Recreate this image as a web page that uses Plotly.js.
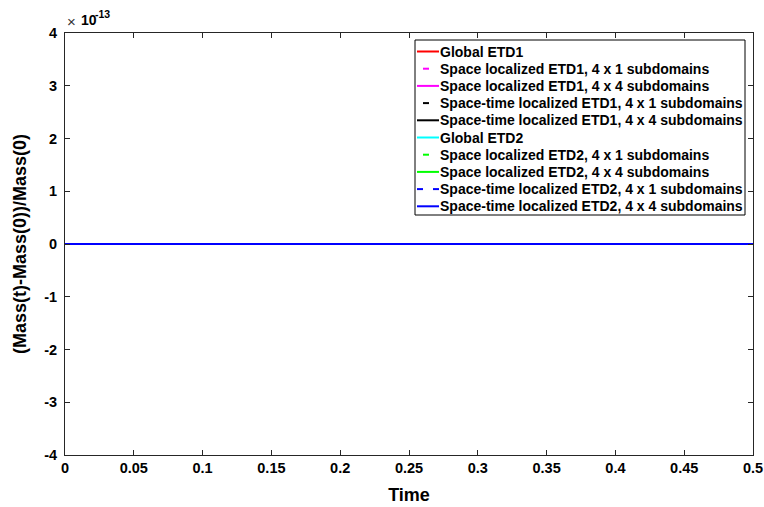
<!DOCTYPE html>
<html>
<head>
<meta charset="utf-8">
<script src="https://cdn.plot.ly/plotly-3.0.1.min.js"></script>
<style>html,body{margin:0;padding:0;background:#fff;}#chart{width:764px;height:507px;}</style>
</head>
<body>
<div id="chart"></div>
<script>
// Time samples
var time = [0, 0.05, 0.1, 0.15, 0.2, 0.25, 0.3, 0.35, 0.4, 0.45, 0.5];
// Relative mass change, in units of 1e-13 (all effectively zero)
var globalETD1       = [0, 0, 0, 0, 0, 0, 0, 0, 0, 0, 0];
var spaceETD1_4x1    = [0, 0, 0, 0, 0, 0, 0, 0, 0, 0, 0];
var spaceETD1_4x4    = [0, 0, 0, 0, 0, 0, 0, 0, 0, 0, 0];
var stETD1_4x1       = [0, 0, 0, 0, 0, 0, 0, 0, 0, 0, 0];
var stETD1_4x4       = [0, 0, 0, 0, 0, 0, 0, 0, 0, 0, 0];
var globalETD2       = [0, 0, 0, 0, 0, 0, 0, 0, 0, 0, 0];
var spaceETD2_4x1    = [0, 0, 0, 0, 0, 0, 0, 0, 0, 0, 0];
var spaceETD2_4x4    = [0, 0, 0, 0, 0, 0, 0, 0, 0, 0, 0];
var stETD2_4x1       = [0, 0, 0, 0, 0, 0, 0, 0, 0, 0, 0];
var stETD2_4x4       = [0, 0, 0, 0, 0, 0, 0, 0, 0, 0, 0];

var seriesNames = [
  'Global ETD1',
  'Space localized ETD1, 4 x 1 subdomains',
  'Space localized ETD1, 4 x 4 subdomains',
  'Space-time localized ETD1, 4 x 1 subdomains',
  'Space-time localized ETD1, 4 x 4 subdomains',
  'Global ETD2',
  'Space localized ETD2, 4 x 1 subdomains',
  'Space localized ETD2, 4 x 4 subdomains',
  'Space-time localized ETD2, 4 x 1 subdomains',
  'Space-time localized ETD2, 4 x 4 subdomains'
];
var xTickVals = [0, 0.05, 0.1, 0.15, 0.2, 0.25, 0.3, 0.35, 0.4, 0.45, 0.5];
var xTickText = ['0', '0.05', '0.1', '0.15', '0.2', '0.25', '0.3', '0.35', '0.4', '0.45', '0.5'];
var yTickVals = [-4, -3, -2, -1, 0, 1, 2, 3, 4];
var yTickText = ['-4', '-3', '-2', '-1', '0', '1', '2', '3', '4'];
var yExponent = '-13';

var seriesData = [globalETD1, spaceETD1_4x1, spaceETD1_4x4, stETD1_4x1, stETD1_4x4,
                  globalETD2, spaceETD2_4x1, spaceETD2_4x4, stETD2_4x1, stETD2_4x4];
var colors = ['#ff0000', '#ff00ff', '#ff00ff', '#000000', '#000000',
              '#00ffff', '#00ff00', '#00ff00', '#0000ff', '#0000ff'];
var dashes = ['solid', 'dash', 'solid', 'dash', 'solid',
              'solid', 'dash', 'solid', 'dash', 'solid'];

var traces = seriesData.map(function (ys, i) {
  return {
    x: time, y: ys, type: 'scatter', mode: 'lines', name: seriesNames[i],
    showlegend: false,
    line: {color: colors[i], width: 2, dash: dashes[i]}
  };
});

// page geometry (pixels) -> paper coordinates
var M = {l: 65, r: 11, t: 33, b: 52};
var W = 764, H = 507;
var PW = W - M.l - M.r, PH = H - M.t - M.b;
function px(x) { return (x - M.l) / PW; }
function py(y) { return (H - M.b - y) / PH; }

var fontFam = 'Liberation Sans, Arial, Helvetica, sans-serif';

// Legend built as a box + sample lines + text labels
var shapes = [{
  type: 'rect', xref: 'paper', yref: 'paper', layer: 'above',
  x0: px(415), x1: px(745), y0: py(40), y1: py(215),
  line: {color: '#000', width: 1}, fillcolor: '#fff'
}];
var annotations = [];
var rowY0 = 51.5, rowStep = 17.2;
seriesNames.forEach(function (name, i) {
  var yy = rowY0 + rowStep * i;
  if (dashes[i] === 'solid') {
    shapes.push({type: 'line', xref: 'paper', yref: 'paper', layer: 'above',
      x0: px(417), x1: px(439), y0: py(yy), y1: py(yy),
      line: {color: colors[i], width: 2}});
  } else if (i === 8) {
    [[417, 423], [433, 439]].forEach(function (seg) {
      shapes.push({type: 'line', xref: 'paper', yref: 'paper', layer: 'above',
        x0: px(seg[0]), x1: px(seg[1]), y0: py(yy), y1: py(yy),
        line: {color: colors[i], width: 2}});
    });
  } else {
    shapes.push({type: 'line', xref: 'paper', yref: 'paper', layer: 'above',
      x0: px(423), x1: px(429), y0: py(yy), y1: py(yy),
      line: {color: colors[i], width: 2}});
  }
  annotations.push({
    xref: 'paper', yref: 'paper', x: px(439), y: py(yy),
    xanchor: 'left', yanchor: 'middle', showarrow: false, text: name,
    borderpad: 0,
    font: {family: fontFam, size: 14, color: '#000', weight: 'bold'}
  });
});
// axis exponent label  x10^-13
annotations.push({
  xref: 'paper', yref: 'paper', x: px(66), y: py(21.5), xanchor: 'left', yanchor: 'middle',
  text: '\u00d7', showarrow: false, borderpad: 0,
  font: {family: fontFam, size: 15, color: '#333', weight: 'normal'}
});
annotations.push({
  xref: 'paper', yref: 'paper', x: px(80), y: py(20), xanchor: 'left', yanchor: 'middle',
  text: '10', showarrow: false, borderpad: 0,
  font: {family: fontFam, size: 14, color: '#000', weight: 'bold'}
});
annotations.push({
  xref: 'paper', yref: 'paper', x: px(94), y: py(14), xanchor: 'left', yanchor: 'middle',
  text: yExponent, showarrow: false, borderpad: 0,
  font: {family: fontFam, size: 10.5, color: '#000', weight: 'bold'}
});

var layout = {
  width: W, height: H,
  margin: M,
  paper_bgcolor: '#fff', plot_bgcolor: '#fff',
  font: {family: fontFam, size: 14, color: '#000', weight: 'bold'},
  showlegend: false,
  xaxis: {
    range: [0, 0.5], tickvals: xTickVals, ticktext: xTickText,
    ticks: 'inside', ticklen: 5, tickcolor: '#262626',
    showline: true, linecolor: '#262626', linewidth: 1, mirror: 'ticks',
    showgrid: false, zeroline: false,
    tickfont: {family: fontFam, size: 14.5, weight: 'bold'},
    title: {text: 'Time', font: {family: fontFam, size: 18, weight: 'bold'}, standoff: 12}
  },
  yaxis: {
    range: [-4, 4], tickvals: yTickVals, ticktext: yTickText,
    ticks: 'inside', ticklen: 5, tickcolor: '#262626',
    showline: true, linecolor: '#262626', linewidth: 1, mirror: 'ticks',
    showgrid: false, zeroline: false, ticklabelstandoff: 4,
    tickfont: {family: fontFam, size: 14.5, weight: 'bold'},
    title: {text: '(Mass(t)-Mass(0))/Mass(0)', font: {family: fontFam, size: 18, weight: 'bold'}, standoff: 12}
  },
  shapes: shapes,
  annotations: annotations
};

Plotly.newPlot('chart', traces, layout, {displayModeBar: false, staticPlot: true});
</script>
</body>
</html>
